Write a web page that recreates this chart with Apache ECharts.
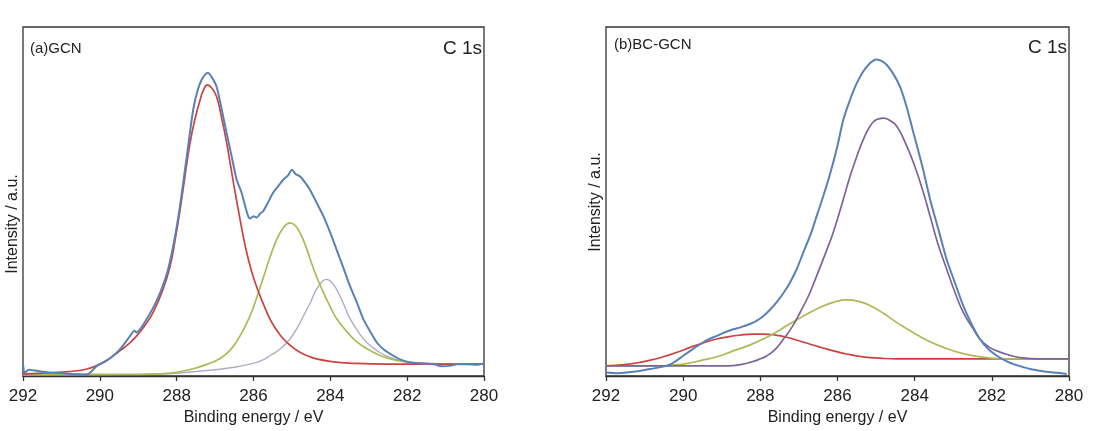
<!DOCTYPE html>
<html>
<head>
<meta charset="utf-8">
<script src="https://cdn.jsdelivr.net/npm/echarts@6/dist/echarts.min.js"></script>
<style>
  html, body { margin: 0; padding: 0; background: #fff; }
  #chart { width: 1096px; height: 431px; }
</style>
</head>
<body>
<div id="chart"></div>
<script>
// C 1s XPS spectra: [binding energy (eV), intensity (a.u.)]
const xTicks = [292, 290, 288, 286, 284, 282, 280];

// (a) GCN
const gcnMeasured = [[292.0,3.4],[291.95,1.0],[291.85,1.8],[291.64,1.5],[291.45,1.2],[291.21,0.9],[291.0,0.8],[290.78,0.6],[290.55,0.5],[290.34,0.4],[290.2,1.5],[290.08,2.9],[289.85,4.2],[289.65,5.8],[289.45,8.0],[289.21,11.5],[289.1,13.0],[289.04,12.5],[288.9,14.2],[288.78,16.3],[288.6,19.8],[288.43,23.9],[288.25,29.5],[288.09,37.2],[287.95,46.0],[287.83,55.3],[287.7,66.0],[287.57,76.3],[287.45,82.0],[287.35,84.9],[287.25,86.5],[287.18,86.8],[287.08,85.5],[286.96,82.9],[286.83,76.5],[286.7,69.6],[286.57,63.0],[286.44,56.3],[286.31,52.5],[286.2,48.0],[286.14,45.8],[286.09,45.1],[286.0,45.8],[285.92,45.4],[285.83,46.5],[285.75,47.2],[285.62,49.8],[285.49,52.5],[285.35,54.5],[285.22,56.3],[285.1,57.5],[285.0,59.1],[284.9,57.8],[284.79,57.2],[284.66,55.5],[284.53,53.4],[284.35,49.5],[284.18,45.8],[284.0,41.0],[283.84,36.3],[283.66,31.0],[283.49,25.8],[283.3,20.8],[283.14,16.3],[282.95,12.5],[282.79,9.6],[282.6,7.5],[282.36,5.8],[282.15,4.6],[281.93,3.9],[281.6,3.6],[281.32,3.4],[281.1,2.8],[280.89,2.9],[280.7,3.4],[280.45,3.4],[280.2,3.2],[280.0,3.6]];
const gcnFit1 = [[292.0,0.6],[291.5,0.8],[291.0,1.1],[290.6,1.5],[290.34,2.0],[290.1,2.9],[289.9,4.0],[289.7,5.4],[289.48,7.2],[289.25,9.2],[289.04,11.5],[288.82,14.6],[288.61,18.3],[288.35,25.0],[288.17,31.5],[288.04,39.0],[287.91,47.7],[287.78,57.5],[287.65,66.9],[287.52,73.8],[287.39,79.1],[287.3,82.0],[287.2,83.4],[287.08,82.4],[286.96,80.0],[286.83,74.0],[286.7,66.9],[286.6,60.5],[286.5,54.0],[286.35,44.9],[286.2,36.5],[286.05,30.0],[285.9,25.0],[285.75,20.8],[285.57,16.3],[285.4,13.2],[285.22,10.6],[285.0,8.4],[284.79,6.8],[284.55,5.6],[284.36,4.9],[284.0,4.2],[283.49,3.7],[282.5,3.4],[281.0,3.4],[280.0,3.4]];
const gcnFit2 = [[292.0,0.5],[289.0,0.5],[288.5,0.6],[288.1,0.9],[287.8,1.5],[287.5,2.3],[287.2,3.4],[286.87,5.0],[286.6,7.5],[286.35,11.5],[286.1,17.0],[285.96,21.0],[285.75,28.0],[285.57,34.0],[285.4,39.0],[285.22,42.5],[285.05,43.9],[284.92,43.2],[284.79,41.0],[284.65,37.5],[284.53,33.6],[284.36,28.5],[284.18,23.9],[284.0,19.8],[283.84,16.5],[283.55,12.5],[283.31,9.8],[282.95,7.2],[282.62,5.5],[282.2,4.3],[281.93,3.9],[281.2,3.5],[280.0,3.4]];
const gcnFit3 = [[292.0,0.3],[289.0,0.4],[288.0,0.8],[287.5,1.3],[287.0,1.8],[286.5,2.5],[286.09,3.4],[285.8,4.4],[285.57,5.8],[285.3,7.8],[285.05,10.6],[284.85,14.0],[284.7,17.2],[284.5,21.5],[284.36,24.9],[284.2,27.2],[284.1,27.7],[283.98,27.0],[283.84,24.9],[283.65,20.5],[283.49,16.5],[283.25,12.3],[283.05,9.6],[282.75,7.0],[282.45,5.3],[282.1,4.3],[281.7,3.8],[281.2,3.5],[280.0,3.4]];

// (b) BC-GCN
const bcMeasured = [[292.0,1.0],[291.7,0.8],[291.29,1.2],[290.86,2.0],[290.43,2.9],[290.2,4.2],[290.0,5.8],[289.78,7.5],[289.56,9.1],[289.35,10.5],[289.13,11.5],[288.9,12.6],[288.7,13.4],[288.5,14.0],[288.27,14.9],[288.1,15.8],[287.92,17.2],[287.75,19.0],[287.58,21.1],[287.4,23.8],[287.23,26.8],[287.05,30.8],[286.89,35.3],[286.7,40.5],[286.54,45.8],[286.37,51.5],[286.19,58.0],[286.0,66.0],[285.85,73.4],[285.68,79.0],[285.5,83.9],[285.33,87.3],[285.16,89.6],[285.05,90.5],[284.98,90.7],[284.85,90.2],[284.72,89.1],[284.55,86.5],[284.38,82.9],[284.2,76.8],[284.03,69.6],[283.8,60.0],[283.6,50.6],[283.38,41.8],[283.17,33.4],[282.95,26.5],[282.74,20.1],[282.52,14.8],[282.31,10.6],[282.1,7.8],[281.87,5.8],[281.65,4.4],[281.44,3.4],[281.2,2.6],[281.01,2.0],[280.8,1.6],[280.58,1.2],[280.3,0.9],[280.06,0.6]];
const bcFit1 = [[292.0,2.9],[291.5,3.3],[291.12,3.9],[290.75,4.8],[290.43,5.8],[290.1,7.0],[289.82,8.2],[289.45,9.6],[289.13,10.6],[288.8,11.3],[288.53,11.7],[288.2,12.0],[287.92,12.0],[287.6,11.7],[287.32,11.1],[287.0,10.1],[286.71,9.1],[286.4,8.1],[286.11,7.2],[285.76,6.3],[285.33,5.5],[284.9,5.1],[284.46,4.9],[282.0,4.9],[280.0,4.9]];
const bcFit2 = [[292.0,2.9],[290.8,2.9],[290.43,3.0],[290.1,3.3],[289.8,3.8],[289.56,4.4],[289.1,5.6],[288.7,7.2],[288.25,9.0],[287.83,11.1],[287.55,12.8],[287.32,14.4],[287.05,16.1],[286.8,17.7],[286.4,19.9],[286.11,21.1],[285.76,21.8],[285.45,21.4],[285.16,20.2],[284.8,17.9],[284.46,15.3],[284.2,13.5],[284.0,12.2],[283.6,9.8],[283.15,7.8],[282.74,6.4],[282.3,5.5],[281.87,5.0],[281.3,4.9],[280.0,4.9]];
const bcFit3 = [[292.0,2.9],[289.0,2.9],[288.7,3.0],[288.45,3.4],[288.27,3.9],[288.05,4.7],[287.83,5.8],[287.6,7.8],[287.4,10.6],[287.18,14.0],[286.97,18.2],[286.75,23.0],[286.54,28.7],[286.3,35.5],[286.1,41.5],[285.85,50.6],[285.68,57.0],[285.5,62.9],[285.33,67.8],[285.16,71.5],[285.0,73.4],[284.81,73.9],[284.64,73.2],[284.46,71.5],[284.25,67.0],[284.03,61.1],[283.8,53.5],[283.6,45.8],[283.4,38.0],[283.17,30.6],[282.95,23.8],[282.74,18.2],[282.5,13.8],[282.31,10.6],[282.1,8.5],[281.87,7.2],[281.55,6.0],[281.27,5.3],[280.8,4.9],[280.0,4.9]];

const panelLabels = ['(a)GCN', '(b)BC-GCN'];
const coreLevel = 'C 1s';
const xName = 'Binding energy / eV';
const yName = 'Intensity / a.u.';

const FONT = '"Liberation Sans", Arial, sans-serif';
const INK = '#222';

const grids = [
  { left: 23, top: 27, width: 461, height: 350 },
  { left: 606, top: 27, width: 463, height: 350 }
];

function xAxisFor(i) {
  return {
    gridIndex: i, type: 'value', inverse: true,
    min: 280, max: 292, interval: 2,
    name: xName, nameLocation: 'middle', nameGap: 34,
    nameTextStyle: { fontFamily: FONT, fontSize: 16, color: INK },
    axisLine: { show: true, lineStyle: { color: '#333', width: 1.3 } },
    axisTick: { show: true, inside: false, length: 5, lineStyle: { color: '#333', width: 1.3 } },
    axisLabel: { margin: 12, fontFamily: FONT, fontSize: 17, color: INK,
      formatter: v => xTicks.includes(v) ? String(v) : '' },
    splitLine: { show: false }
  };
}
function yAxisFor(i) {
  return {
    gridIndex: i, type: 'value', min: 0, max: 100,
    axisLine: { show: false }, axisTick: { show: false },
    axisLabel: { show: false }, splitLine: { show: false }
  };
}
function line(i, data, color, width, smooth) {
  return {
    type: 'line', xAxisIndex: i, yAxisIndex: i, data: data,
    showSymbol: false, smooth: smooth, animation: false,
    lineStyle: { color: color, width: width }, silent: true
  };
}

const BLUE = '#5a80b8', RED = '#c9443f', GREEN = '#a9bb55', LILAC = '#b4a9c9', PURPLE = '#7d639c';

const chart = echarts.init(document.getElementById('chart'), null, { renderer: 'canvas' });
chart.setOption({
  backgroundColor: '#fff',
  animation: false,
  grid: grids.map(g => Object.assign({ show: true, borderColor: '#333', borderWidth: 1.3, backgroundColor: 'transparent' }, g)),
  xAxis: [xAxisFor(0), xAxisFor(1)],
  yAxis: [yAxisFor(0), yAxisFor(1)],
  series: [
    line(0, gcnFit3, LILAC, 1.4, 0.5),
    line(0, gcnFit2, GREEN, 1.7, 0.5),
    line(0, gcnFit1, RED, 1.7, 0.5),
    line(0, gcnMeasured, BLUE, 2, 0.25),
    line(1, bcFit1, RED, 1.7, 0.5),
    line(1, bcFit2, GREEN, 1.7, 0.5),
    line(1, bcFit3, PURPLE, 1.7, 0.5),
    line(1, bcMeasured, BLUE, 2, 0.25)
  ],
  graphic: [
    { type: 'text', x: 30, y: 41, style: { text: panelLabels[0], font: '15px ' + FONT, fill: INK } },
    { type: 'text', x: 482, y: 39, style: { text: coreLevel, font: '19px ' + FONT, fill: INK, textAlign: 'right' } },
    { type: 'text', x: 614, y: 37, style: { text: panelLabels[1], font: '15px ' + FONT, fill: INK } },
    { type: 'text', x: 1067, y: 38, style: { text: coreLevel, font: '19px ' + FONT, fill: INK, textAlign: 'right' } },
    { type: 'text', x: 13, y: 224, rotation: Math.PI / 2,
      style: { text: yName, font: '16px ' + FONT, fill: INK, textAlign: 'center', textVerticalAlign: 'middle' } },
    { type: 'text', x: 596, y: 202, rotation: Math.PI / 2,
      style: { text: yName, font: '16px ' + FONT, fill: INK, textAlign: 'center', textVerticalAlign: 'middle' } }
  ]
});
</script>
</body>
</html>
